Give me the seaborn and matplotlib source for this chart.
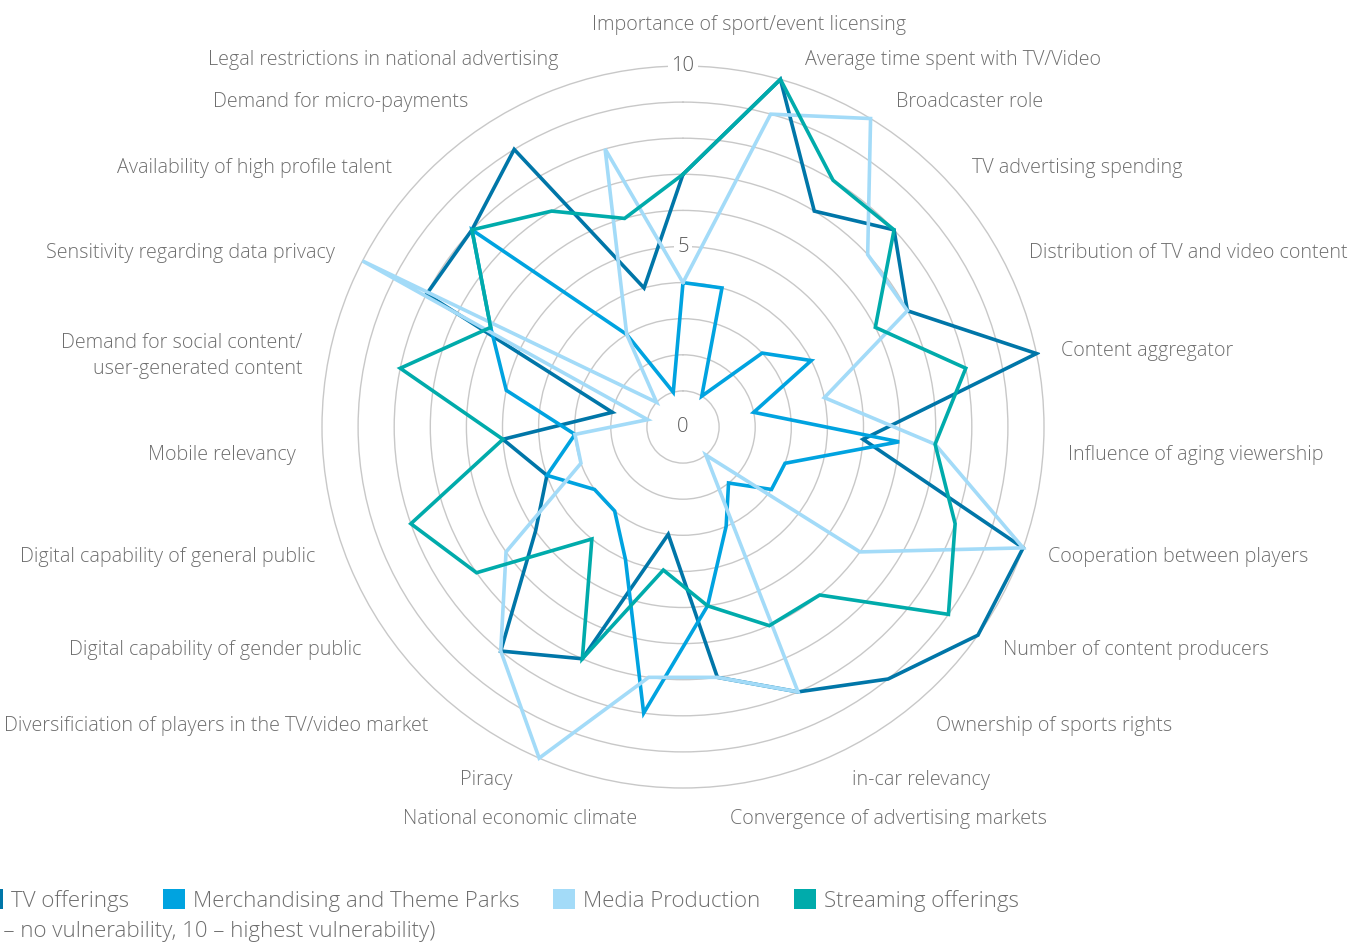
import numpy as np
import pandas as pd
import matplotlib
matplotlib.use("Agg")
import matplotlib.pyplot as plt
from matplotlib.patches import Patch
import seaborn as sns

sns.set_style("white")
plt.rcParams["font.family"] = ["Open Sans", "DejaVu Sans"]

# categories clockwise from the top
categories = [
    "Importance of sport/event licensing",
    "Average time spent with TV/Video",
    "Broadcaster role",
    "TV advertising spending",
    "Distribution of TV and video content",
    "Content aggregator",
    "Influence of aging viewership",
    "Cooperation between players",
    "Number of content producers",
    "Ownership of sports rights",
    "in-car relevancy",
    "Convergence of advertising markets",
    "National economic climate",
    "Piracy",
    "Diversificiation of players in the TV/video market",
    "Digital capability of gender public",
    "Digital capability of general public",
    "Mobile relevancy",
    "Demand for social content/\nuser-generated content",
    "Sensitivity regarding data privacy",
    "Availability of high profile talent",
    "Demand for micro-payments",
    "Legal restrictions in national advertising",
]

tv_offerings = [7, 10, 7, 8, 7, 10, 5, 10, 10, 9, 8, 7, 3, 7, 8, 5, 4, 5, 2, 8, 8, 9, 4]
merchandising = [4, 4, 1, 3, 4, 2, 6, 3, 3, 2, 3, 5, 8, 4, 3, 3, 4, 3, 5, 6, 8, 3, 1]
media_production = [4, 9, 10, 7, 7, 4, 7, 10, 6, 1, 8, 7, 7, 10, 8, 6, 3, 3, 1, 10, 1, 3, 8]
streaming = [7, 10, 8, 8, 6, 8, 7, 8, 9, 6, 6, 5, 4, 7, 4, 7, 8, 5, 8, 6, 8, 7, 6]

series_names = ["TV offerings", "Merchandising and Theme Parks", "Media Production", "Streaming offerings"]
series_values = [tv_offerings, merchandising, media_production, streaming]
colors = ["#0076A8", "#00A3E0", "#A3DBF8", "#00ABAB"]

n = len(categories)
theta = np.linspace(0, 2 * np.pi, n, endpoint=False)

# long table, each polygon closed by repeating the first point
rows = []
for name, vals in zip(series_names, series_values):
    for t, v in zip(list(theta) + [2 * np.pi], list(vals) + [vals[0]]):
        rows.append({"theta": t, "value": v, "series": name})
df = pd.DataFrame(rows)

W, H = 1369, 944
fig = plt.figure(figsize=(W / 100, H / 100), dpi=100)
rmax = 10.1
cx, cy, R = 683, 427, 361 * rmax / 10
ax = fig.add_axes([(cx - R) / W, 1 - (cy + R) / H, 2 * R / W, 2 * R / H], projection="polar")
ax.set_theta_offset(np.pi / 2)
ax.set_theta_direction(-1)

sns.lineplot(
    data=df, x="theta", y="value", hue="series", hue_order=series_names,
    palette=colors, sort=False, estimator=None, linewidth=2.6,
    legend=False, ax=ax, solid_joinstyle="miter",
)

ax.set_ylim(0, rmax)
ax.set_yticks(range(1, 11))
ax.set_yticklabels([])
ax.set_xticks([])
ax.set_xlabel("")
ax.set_ylabel("")
ax.set_axisbelow(True)
ax.yaxis.grid(True, color="#c8c8c8", linewidth=1.0)
ax.spines["polar"].set_visible(False)

grey = "#6e6e6e"
for r in [0, 5, 10]:
    ax.text(0, r, str(r), ha="center", va="center", fontsize=14.5, color="#5a5a5a",
            fontweight="light", zorder=1.5,
            bbox=dict(boxstyle="square,pad=0.15", fc="white", ec="none"))

# category labels just outside the outer ring
for k, (lab, t) in enumerate(zip(categories, theta)):
    s, c = np.sin(t), np.cos(t)
    if k == 0:
        ha, dx, dy = "center", 66, 41
    elif k == 11:
        ha, dx, dy = "left", -2, -34
    elif k == 12:
        ha, dx, dy = "right", 3, -34
    elif s > 0:
        ha, dx, dy = "left", 25, 22 * c - 2
    else:
        ha, dx, dy = "right", -27, 22 * c - 2
    if "\n" in lab:
        dy -= 5
    ax.annotate(lab, xy=(t, 10), xytext=(dx, dy), textcoords="offset pixels",
                ha=ha, va="center", fontsize=14.2, color=grey, fontweight="light",
                multialignment="right", annotation_clip=False, linespacing=1.45)

handles = [Patch(facecolor=c, edgecolor="none") for c in colors]
leg_size = 16
fig.legend(handles, series_names, loc="upper left", bbox_to_anchor=(-19 / W, 1 - 889 / H),
           ncol=4, frameon=False, borderpad=0, borderaxespad=0,
           handlelength=1.0, handleheight=1.0, handletextpad=0.36, columnspacing=1.5,
           prop={"size": leg_size, "weight": "light"}, labelcolor=grey)

note = "(0 \u2013 no vulnerability, 10 \u2013 highest vulnerability)"
probe = fig.text(0, 0, "(0 ", fontsize=leg_size, fontweight="light")
fig.canvas.draw()
w = probe.get_window_extent().width
probe.remove()
fig.text((3 - w) / W, 1 - 932 / H, note, fontsize=leg_size, fontweight="light", color=grey, va="center")

fig.savefig("out.png", dpi=100)
